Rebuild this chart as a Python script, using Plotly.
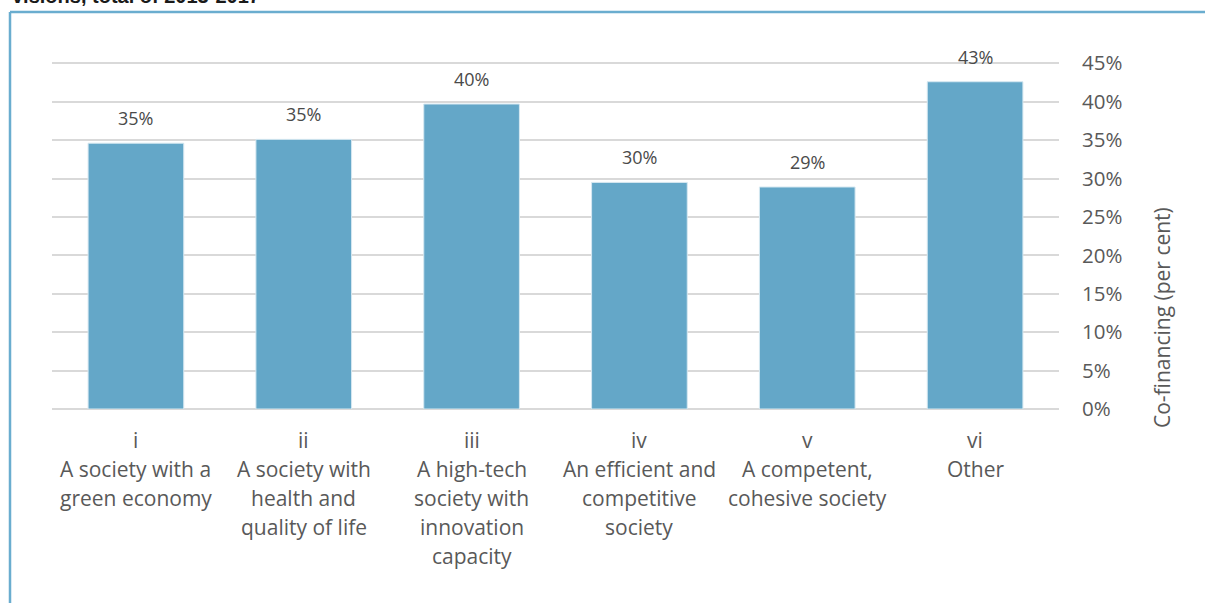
import plotly.graph_objects as go

# Co-financing share per societal vision
numerals = ["i", "ii", "iii", "iv", "v", "vi"]
visions = [
    ["A society with a", "green economy"],
    ["A society with", "health and", "quality of life"],
    ["A high-tech", "society with", "innovation", "capacity"],
    ["An efficient and", "competitive", "society"],
    ["A competent,", "cohesive society"],
    ["Other"],
]
cofinancing = [0.346, 0.351, 0.397, 0.295, 0.289, 0.426]
y_ticks = [0, 0.05, 0.10, 0.15, 0.20, 0.25, 0.30, 0.35, 0.40, 0.45]
y_tick_text = ["0%", "5%", "10%", "15%", "20%", "25%", "30%", "35%", "40%", "45%"]

FONT = "Open Sans"
GREY = "#595959"
BAR = "#64a7c8"
FRAME = "#6aadcf"

W, H = 1205, 603
L, R, T, B = 52, 146, 61, 194
plot_h = H - T - B
plot_w = W - L - R
Y_MAX = 0.453

fig = go.Figure()
fig.add_trace(go.Bar(
    x=numerals,
    y=cofinancing,
    marker=dict(color=BAR, line=dict(color="#d6e8f1", width=1)),
    width=0.57,
    hoverinfo="skip",
))

annotations = []
# value labels above each bar
for cat, val in zip(numerals, cofinancing):
    annotations.append(dict(
        x=cat, y=val, xref="x", yref="y",
        text=f"{val * 100:.0f}%", showarrow=False,
        yanchor="middle", yshift=25,
        font=dict(family=FONT, size=18, color="#4a4a4a"),
    ))

# category labels below the axis, one line per annotation
for cat, lines in zip(numerals, visions):
    for k, line in enumerate([cat] + lines):
        annotations.append(dict(
            x=cat, y=0, xref="x", yref="paper",
            text=line, showarrow=False,
            yanchor="middle", yshift=-31 - 29 * k,
            font=dict(family=FONT, size=21, color=GREY),
        ))

# right-hand axis title
annotations.append(dict(
    x=(1162 - L) / plot_w, y=(H - B - 318) / plot_h,
    xref="paper", yref="paper",
    text="Co-financing (per cent)", showarrow=False, textangle=-90,
    xanchor="center", yanchor="middle",
    font=dict(family=FONT, size=21, color=GREY),
))

# heading running off the top edge
annotations.append(dict(
    x=(10 - L) / plot_w, y=(H - B - 9) / plot_h,
    xref="paper", yref="paper",
    text="<b>visions, total of 2013-2017</b>", showarrow=False,
    xanchor="left", yanchor="bottom",
    font=dict(family="Liberation Sans", size=20, color="#1a1a1a"),
))

# frame: left and top edges
fx = (10 - L) / plot_w
fy = (H - B - 12) / plot_h
shapes = [
    dict(type="line", xref="paper", yref="paper", x0=fx, x1=fx, y0=fy, y1=-1,
         line=dict(color=FRAME, width=2.5)),
    dict(type="line", xref="paper", yref="paper", x0=fx, x1=1.5, y0=fy, y1=fy,
         line=dict(color=FRAME, width=2.5)),
]

fig.update_layout(
    width=W, height=H,
    margin=dict(l=L, r=R, t=T, b=B, pad=0),
    paper_bgcolor="white", plot_bgcolor="white",
    showlegend=False,
    bargap=0.43,
    xaxis=dict(showticklabels=False, showgrid=False, zeroline=False,
               showline=False, ticks=""),
    yaxis=dict(
        side="right", range=[0, Y_MAX],
        tickvals=y_ticks, ticktext=y_tick_text,
        tickfont=dict(family=FONT, size=20.5, color=GREY),
        showgrid=True, gridcolor="#d9d9d9", gridwidth=2,
        zeroline=True, zerolinecolor="#d9d9d9", zerolinewidth=2,
        showline=False, ticks="", ticklabelstandoff=22,
    ),
    annotations=annotations,
    shapes=shapes,
    font=dict(family=FONT),
)

fig.write_html("out.html")
